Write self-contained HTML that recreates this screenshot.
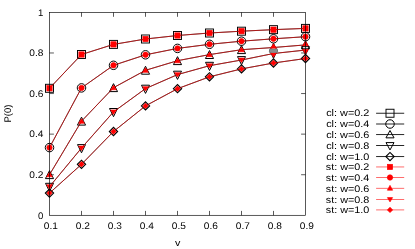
<!DOCTYPE html>
<html><head><meta charset="utf-8"><title>P(0) vs v</title>
<style>html,body{margin:0;padding:0;background:#fff;}svg{display:block;will-change:transform;}text{opacity:0.999;text-rendering:geometricPrecision;}</style>
</head><body>
<svg width="415" height="249" viewBox="0 0 415 249">
<rect width="415" height="249" fill="#fff"/>
<g stroke-width="0.65" stroke-linejoin="miter" stroke-linecap="butt" font-family="'Liberation Sans', sans-serif" font-size="9.6px" fill="#000">
<g stroke="#000" fill="none">
<path d="M49.5 174.72h4.4"/>
<path d="M305.5 174.72h-4.4"/>
<path d="M49.5 134.14h4.4"/>
<path d="M305.5 134.14h-4.4"/>
<path d="M49.5 93.56h4.4"/>
<path d="M305.5 93.56h-4.4"/>
<path d="M49.5 52.98h4.4"/>
<path d="M305.5 52.98h-4.4"/>
<path d="M81.5 215.3v-4.4"/>
<path d="M81.5 12.4v4.4"/>
<path d="M113.5 215.3v-4.4"/>
<path d="M113.5 12.4v4.4"/>
<path d="M145.5 215.3v-4.4"/>
<path d="M145.5 12.4v4.4"/>
<path d="M177.5 215.3v-4.4"/>
<path d="M177.5 12.4v4.4"/>
<path d="M209.5 215.3v-4.4"/>
<path d="M209.5 12.4v4.4"/>
<path d="M241.5 215.3v-4.4"/>
<path d="M241.5 12.4v4.4"/>
<path d="M273.5 215.3v-4.4"/>
<path d="M273.5 12.4v4.4"/>
</g>
<text x="43.4" y="218.6" text-anchor="end">0</text>
<text x="43.4" y="178.02" text-anchor="end" textLength="14.1" lengthAdjust="spacingAndGlyphs">0.2</text>
<text x="43.4" y="137.44" text-anchor="end" textLength="14.1" lengthAdjust="spacingAndGlyphs">0.4</text>
<text x="43.4" y="96.86" text-anchor="end" textLength="14.1" lengthAdjust="spacingAndGlyphs">0.6</text>
<text x="43.4" y="56.28" text-anchor="end" textLength="14.1" lengthAdjust="spacingAndGlyphs">0.8</text>
<text x="43.4" y="15.7" text-anchor="end">1</text>
<text x="50.8" y="229.3" text-anchor="middle" textLength="14.1" lengthAdjust="spacingAndGlyphs">0.1</text>
<text x="82.8" y="229.3" text-anchor="middle" textLength="14.1" lengthAdjust="spacingAndGlyphs">0.2</text>
<text x="114.8" y="229.3" text-anchor="middle" textLength="14.1" lengthAdjust="spacingAndGlyphs">0.3</text>
<text x="146.8" y="229.3" text-anchor="middle" textLength="14.1" lengthAdjust="spacingAndGlyphs">0.4</text>
<text x="178.8" y="229.3" text-anchor="middle" textLength="14.1" lengthAdjust="spacingAndGlyphs">0.5</text>
<text x="210.8" y="229.3" text-anchor="middle" textLength="14.1" lengthAdjust="spacingAndGlyphs">0.6</text>
<text x="242.8" y="229.3" text-anchor="middle" textLength="14.1" lengthAdjust="spacingAndGlyphs">0.7</text>
<text x="274.8" y="229.3" text-anchor="middle" textLength="14.1" lengthAdjust="spacingAndGlyphs">0.8</text>
<text x="306.8" y="229.3" text-anchor="middle" textLength="14.1" lengthAdjust="spacingAndGlyphs">0.9</text>
<text x="177.8" y="246" text-anchor="middle" textLength="5.4" lengthAdjust="spacingAndGlyphs">v</text>
<text transform="translate(11.2 113.6) rotate(-90)" text-anchor="middle" textLength="18" lengthAdjust="spacingAndGlyphs">P(0)</text>
<text x="369.4" y="116.4" text-anchor="end" textLength="43.2" lengthAdjust="spacingAndGlyphs">cl: w=0.2</text>
<path d="M376.1 113.25H404.2" stroke="#000" stroke-width="0.85"/>
<polyline points="49.5,88.3 81.5,54.5 113.5,44.4 145.5,39 177.5,35.5 209.5,33 241.5,31.2 273.5,29.65 305.5,28.4" stroke="#000" stroke-width="0.78" fill="none"/>
<rect x="45.5" y="84.3" width="8" height="8" stroke="#000" fill="none" stroke-width="0.95"/>
<rect x="77.5" y="50.5" width="8" height="8" stroke="#000" fill="none" stroke-width="0.95"/>
<rect x="109.5" y="40.4" width="8" height="8" stroke="#000" fill="none" stroke-width="0.95"/>
<rect x="141.5" y="35" width="8" height="8" stroke="#000" fill="none" stroke-width="0.95"/>
<rect x="173.5" y="31.5" width="8" height="8" stroke="#000" fill="none" stroke-width="0.95"/>
<rect x="205.5" y="29" width="8" height="8" stroke="#000" fill="none" stroke-width="0.95"/>
<rect x="237.5" y="27.2" width="8" height="8" stroke="#000" fill="none" stroke-width="0.95"/>
<rect x="269.5" y="25.65" width="8" height="8" stroke="#000" fill="none" stroke-width="0.95"/>
<rect x="301.5" y="24.4" width="8" height="8" stroke="#000" fill="none" stroke-width="0.95"/>
<rect x="386" y="109.25" width="8" height="8" stroke="#000" fill="none" stroke-width="0.95"/>
<text x="369.4" y="127.15" text-anchor="end" textLength="43.2" lengthAdjust="spacingAndGlyphs">cl: w=0.4</text>
<path d="M376.1 124H404.2" stroke="#000" stroke-width="0.85"/>
<polyline points="49.5,147.6 81.5,87.9 113.5,65.3 145.5,54.8 177.5,48.4 209.5,44.3 241.5,41.2 273.5,38.8 305.5,36.7" stroke="#000" stroke-width="0.78" fill="none"/>
<circle cx="49.5" cy="147.6" r="4.25" stroke="#000" fill="none" stroke-width="1.0"/>
<circle cx="81.5" cy="87.9" r="4.25" stroke="#000" fill="none" stroke-width="1.0"/>
<circle cx="113.5" cy="65.3" r="4.25" stroke="#000" fill="none" stroke-width="1.0"/>
<circle cx="145.5" cy="54.8" r="4.25" stroke="#000" fill="none" stroke-width="1.0"/>
<circle cx="177.5" cy="48.4" r="4.25" stroke="#000" fill="none" stroke-width="1.0"/>
<circle cx="209.5" cy="44.3" r="4.25" stroke="#000" fill="none" stroke-width="1.0"/>
<circle cx="241.5" cy="41.2" r="4.25" stroke="#000" fill="none" stroke-width="1.0"/>
<circle cx="273.5" cy="38.8" r="4.25" stroke="#000" fill="none" stroke-width="1.0"/>
<circle cx="305.5" cy="36.7" r="4.25" stroke="#000" fill="none" stroke-width="1.0"/>
<circle cx="390" cy="124" r="4.25" stroke="#000" fill="none" stroke-width="1.0"/>
<text x="369.4" y="137.7" text-anchor="end" textLength="43.2" lengthAdjust="spacingAndGlyphs">cl: w=0.6</text>
<path d="M376.1 134.55H404.2" stroke="#000" stroke-width="0.85"/>
<polyline points="49.5,174.7 81.5,121.2 113.5,87.7 145.5,70.3 177.5,60.7 209.5,54.6 241.5,49.7 273.5,47.5 305.5,44.9" stroke="#000" stroke-width="0.78" fill="none"/>
<polygon points="45.45,178.6 49.5,170.65 53.55,178.6" stroke="#000" fill="none" stroke-width="1.0"/>
<polygon points="77.45,125.1 81.5,117.15 85.55,125.1" stroke="#000" fill="none" stroke-width="1.0"/>
<polygon points="109.45,91.6 113.5,83.65 117.55,91.6" stroke="#000" fill="none" stroke-width="1.0"/>
<polygon points="141.45,74.2 145.5,66.25 149.55,74.2" stroke="#000" fill="none" stroke-width="1.0"/>
<polygon points="173.45,64.6 177.5,56.65 181.55,64.6" stroke="#000" fill="none" stroke-width="1.0"/>
<polygon points="205.45,58.5 209.5,50.55 213.55,58.5" stroke="#000" fill="none" stroke-width="1.0"/>
<polygon points="237.45,53.6 241.5,45.65 245.55,53.6" stroke="#000" fill="none" stroke-width="1.0"/>
<polygon points="269.45,51.4 273.5,43.45 277.55,51.4" stroke="#000" fill="none" stroke-width="1.0"/>
<polygon points="301.45,48.8 305.5,40.85 309.55,48.8" stroke="#000" fill="none" stroke-width="1.0"/>
<polygon points="385.95,137.85 390,130.5 394.05,137.85" stroke="#000" fill="none" stroke-width="1.0"/>
<text x="369.4" y="148.65" text-anchor="end" textLength="43.2" lengthAdjust="spacingAndGlyphs">cl: w=0.8</text>
<path d="M376.1 145.5H404.2" stroke="#000" stroke-width="0.85"/>
<polyline points="49.5,186.7 81.5,148 113.5,111.9 145.5,88.6 177.5,74.6 209.5,65.7 241.5,60 273.5,53.5 305.5,50.05" stroke="#000" stroke-width="0.78" fill="none"/>
<polygon points="45.5,183.3 49.5,191.5 53.5,183.3" stroke="#000" fill="none" stroke-width="1.0"/>
<polygon points="77.5,144.6 81.5,152.8 85.5,144.6" stroke="#000" fill="none" stroke-width="1.0"/>
<polygon points="109.5,108.5 113.5,116.7 117.5,108.5" stroke="#000" fill="none" stroke-width="1.0"/>
<polygon points="141.5,85.2 145.5,93.4 149.5,85.2" stroke="#000" fill="none" stroke-width="1.0"/>
<polygon points="173.5,71.2 177.5,79.4 181.5,71.2" stroke="#000" fill="none" stroke-width="1.0"/>
<polygon points="205.5,62.3 209.5,70.5 213.5,62.3" stroke="#000" fill="none" stroke-width="1.0"/>
<polygon points="237.5,56.6 241.5,64.8 245.5,56.6" stroke="#000" fill="none" stroke-width="1.0"/>
<polygon points="269.5,50.1 273.5,58.3 277.5,50.1" stroke="#000" fill="none" stroke-width="1.0"/>
<polygon points="301.5,46.65 305.5,54.85 309.5,46.65" stroke="#000" fill="none" stroke-width="1.0"/>
<polygon points="386,142.6 390,149.95 394,142.6" stroke="#000" fill="none" stroke-width="1.0"/>
<text x="369.4" y="159.7" text-anchor="end" textLength="43.2" lengthAdjust="spacingAndGlyphs">cl: w=1.0</text>
<path d="M376.1 156.55H404.2" stroke="#000" stroke-width="0.85"/>
<polyline points="49.5,193.1 81.5,164.3 113.5,131.5 145.5,105.9 177.5,88.7 209.5,76.8 241.5,68.9 273.5,63 305.5,58.5" stroke="#000" stroke-width="0.78" fill="none"/>
<polygon points="45.4,193.1 49.5,197.2 53.6,193.1 49.5,189" stroke="#000" fill="none" stroke-width="1.15"/>
<polygon points="77.4,164.3 81.5,168.4 85.6,164.3 81.5,160.2" stroke="#000" fill="none" stroke-width="1.15"/>
<polygon points="109.4,131.5 113.5,135.6 117.6,131.5 113.5,127.4" stroke="#000" fill="none" stroke-width="1.15"/>
<polygon points="141.4,105.9 145.5,110 149.6,105.9 145.5,101.8" stroke="#000" fill="none" stroke-width="1.15"/>
<polygon points="173.4,88.7 177.5,92.8 181.6,88.7 177.5,84.6" stroke="#000" fill="none" stroke-width="1.15"/>
<polygon points="205.4,76.8 209.5,80.9 213.6,76.8 209.5,72.7" stroke="#000" fill="none" stroke-width="1.15"/>
<polygon points="237.4,68.9 241.5,73 245.6,68.9 241.5,64.8" stroke="#000" fill="none" stroke-width="1.15"/>
<polygon points="269.4,63 273.5,67.1 277.6,63 273.5,58.9" stroke="#000" fill="none" stroke-width="1.15"/>
<polygon points="301.4,58.5 305.5,62.6 309.6,58.5 305.5,54.4" stroke="#000" fill="none" stroke-width="1.15"/>
<polygon points="385.9,156.55 390,160.65 394.1,156.55 390,152.45" stroke="#000" fill="none" stroke-width="1.15"/>
<text x="369.4" y="170.1" text-anchor="end" textLength="43.6" lengthAdjust="spacingAndGlyphs">st: w=0.2</text>
<path d="M376.1 166.95H404.2" stroke="#f00" stroke-width="0.58"/>
<polyline points="49.5,88.3 81.5,54.5 113.5,44.4 145.5,39 177.5,35.5 209.5,33 241.5,31.2 273.5,29.65 305.5,28.4" stroke="#f00" stroke-width="0.58" fill="none"/>
<rect x="46.85" y="85.65" width="5.3" height="5.3" stroke="#f00" fill="#f00" stroke-width="0.65"/>
<rect x="78.85" y="51.85" width="5.3" height="5.3" stroke="#f00" fill="#f00" stroke-width="0.65"/>
<rect x="110.85" y="41.75" width="5.3" height="5.3" stroke="#f00" fill="#f00" stroke-width="0.65"/>
<rect x="142.85" y="36.35" width="5.3" height="5.3" stroke="#f00" fill="#f00" stroke-width="0.65"/>
<rect x="174.85" y="32.85" width="5.3" height="5.3" stroke="#f00" fill="#f00" stroke-width="0.65"/>
<rect x="206.85" y="30.35" width="5.3" height="5.3" stroke="#f00" fill="#f00" stroke-width="0.65"/>
<rect x="238.85" y="28.55" width="5.3" height="5.3" stroke="#f00" fill="#f00" stroke-width="0.65"/>
<rect x="270.85" y="27" width="5.3" height="5.3" stroke="#f00" fill="#f00" stroke-width="0.65"/>
<rect x="302.85" y="25.75" width="5.3" height="5.3" stroke="#f00" fill="#f00" stroke-width="0.65"/>
<rect x="387.35" y="164.3" width="5.3" height="5.3" stroke="#f00" fill="#f00" stroke-width="0.65"/>
<text x="369.4" y="180.65" text-anchor="end" textLength="43.6" lengthAdjust="spacingAndGlyphs">st: w=0.4</text>
<path d="M376.1 177.5H404.2" stroke="#f00" stroke-width="0.58"/>
<polyline points="49.5,147.6 81.5,87.9 113.5,65.3 145.5,54.8 177.5,48.4 209.5,44.3 241.5,41.2 273.5,38.8 305.5,36.7" stroke="#f00" stroke-width="0.58" fill="none"/>
<circle cx="49.5" cy="147.6" r="2.7" stroke="#f00" fill="#f00" stroke-width="0.65"/>
<circle cx="81.5" cy="87.9" r="2.7" stroke="#f00" fill="#f00" stroke-width="0.65"/>
<circle cx="113.5" cy="65.3" r="2.7" stroke="#f00" fill="#f00" stroke-width="0.65"/>
<circle cx="145.5" cy="54.8" r="2.7" stroke="#f00" fill="#f00" stroke-width="0.65"/>
<circle cx="177.5" cy="48.4" r="2.7" stroke="#f00" fill="#f00" stroke-width="0.65"/>
<circle cx="209.5" cy="44.3" r="2.7" stroke="#f00" fill="#f00" stroke-width="0.65"/>
<circle cx="241.5" cy="41.2" r="2.7" stroke="#f00" fill="#f00" stroke-width="0.65"/>
<circle cx="273.5" cy="38.8" r="2.7" stroke="#f00" fill="#f00" stroke-width="0.65"/>
<circle cx="305.5" cy="36.7" r="2.7" stroke="#f00" fill="#f00" stroke-width="0.65"/>
<circle cx="390" cy="177.5" r="2.7" stroke="#f00" fill="#f00" stroke-width="0.65"/>
<text x="369.4" y="191.5" text-anchor="end" textLength="43.6" lengthAdjust="spacingAndGlyphs">st: w=0.6</text>
<path d="M376.1 188.35H404.2" stroke="#f00" stroke-width="0.58"/>
<polyline points="49.5,174.7 81.5,121.2 113.5,87.7 145.5,70.3 177.5,60.7 209.5,54.6 241.5,49.7 273.5,47.5 305.5,44.9" stroke="#f00" stroke-width="0.58" fill="none"/>
<polygon points="46.65,176.75 49.5,172.2 52.35,176.75" stroke="#f00" fill="#f00" stroke-width="0.65"/>
<polygon points="78.65,123.25 81.5,118.7 84.35,123.25" stroke="#f00" fill="#f00" stroke-width="0.65"/>
<polygon points="110.65,89.75 113.5,85.2 116.35,89.75" stroke="#f00" fill="#f00" stroke-width="0.65"/>
<polygon points="142.65,72.35 145.5,67.8 148.35,72.35" stroke="#f00" fill="#f00" stroke-width="0.65"/>
<polygon points="174.65,62.75 177.5,58.2 180.35,62.75" stroke="#f00" fill="#f00" stroke-width="0.65"/>
<polygon points="206.65,56.65 209.5,52.1 212.35,56.65" stroke="#f00" fill="#f00" stroke-width="0.65"/>
<polygon points="238.65,51.75 241.5,47.2 244.35,51.75" stroke="#f00" fill="#f00" stroke-width="0.65"/>
<polygon points="270.65,48.3 273.5,43.75 276.35,48.3" stroke="#f00" fill="#f00" stroke-width="0.65"/>
<polygon points="302.65,45.7 305.5,41.15 308.35,45.7" stroke="#f00" fill="#f00" stroke-width="0.65"/>
<polygon points="387.35,190.2 390,185.35 392.65,190.2" stroke="#f00" fill="#f00" stroke-width="0.65"/>
<text x="369.4" y="202.65" text-anchor="end" textLength="43.6" lengthAdjust="spacingAndGlyphs">st: w=0.8</text>
<path d="M376.1 199.5H404.2" stroke="#f00" stroke-width="0.58"/>
<polyline points="49.5,186.7 81.5,148 113.5,111.9 145.5,88.6 177.5,74.6 209.5,65.7 241.5,60 273.5,53.5 305.5,50.05" stroke="#f00" stroke-width="0.58" fill="none"/>
<polygon points="46.65,184.8 49.5,189.2 52.35,184.8" stroke="#f00" fill="#f00" stroke-width="0.65"/>
<polygon points="78.65,146.1 81.5,150.5 84.35,146.1" stroke="#f00" fill="#f00" stroke-width="0.65"/>
<polygon points="110.65,110 113.5,114.4 116.35,110" stroke="#f00" fill="#f00" stroke-width="0.65"/>
<polygon points="142.65,86.7 145.5,91.1 148.35,86.7" stroke="#f00" fill="#f00" stroke-width="0.65"/>
<polygon points="174.65,72.7 177.5,77.1 180.35,72.7" stroke="#f00" fill="#f00" stroke-width="0.65"/>
<polygon points="206.65,63.8 209.5,68.2 212.35,63.8" stroke="#f00" fill="#f00" stroke-width="0.65"/>
<polygon points="238.65,58.1 241.5,62.5 244.35,58.1" stroke="#f00" fill="#f00" stroke-width="0.65"/>
<polygon points="270.65,52.8 273.5,57.2 276.35,52.8" stroke="#f00" fill="#f00" stroke-width="0.65"/>
<polygon points="302.65,49.5 305.5,53.9 308.35,49.5" stroke="#f00" fill="#f00" stroke-width="0.65"/>
<polygon points="387.4,197.6 390,201.9 392.6,197.6" stroke="#f00" fill="#f00" stroke-width="0.65"/>
<text x="369.4" y="213.05" text-anchor="end" textLength="43.6" lengthAdjust="spacingAndGlyphs">st: w=1.0</text>
<path d="M376.1 209.9H404.2" stroke="#f00" stroke-width="0.58"/>
<polyline points="49.5,193.1 81.5,164.3 113.5,131.5 145.5,105.9 177.5,88.7 209.5,76.8 241.5,68.9 273.5,63 305.5,58.5" stroke="#f00" stroke-width="0.58" fill="none"/>
<polygon points="46.8,193.1 49.5,195.8 52.2,193.1 49.5,190.4" stroke="#f00" fill="#f00" stroke-width="0.65"/>
<polygon points="78.8,164.3 81.5,167 84.2,164.3 81.5,161.6" stroke="#f00" fill="#f00" stroke-width="0.65"/>
<polygon points="110.8,131.5 113.5,134.2 116.2,131.5 113.5,128.8" stroke="#f00" fill="#f00" stroke-width="0.65"/>
<polygon points="142.8,105.9 145.5,108.6 148.2,105.9 145.5,103.2" stroke="#f00" fill="#f00" stroke-width="0.65"/>
<polygon points="174.8,88.7 177.5,91.4 180.2,88.7 177.5,86" stroke="#f00" fill="#f00" stroke-width="0.65"/>
<polygon points="206.8,76.8 209.5,79.5 212.2,76.8 209.5,74.1" stroke="#f00" fill="#f00" stroke-width="0.65"/>
<polygon points="238.8,68.9 241.5,71.6 244.2,68.9 241.5,66.2" stroke="#f00" fill="#f00" stroke-width="0.65"/>
<polygon points="270.8,63 273.5,65.7 276.2,63 273.5,60.3" stroke="#f00" fill="#f00" stroke-width="0.65"/>
<polygon points="302.8,58.5 305.5,61.2 308.2,58.5 305.5,55.8" stroke="#f00" fill="#f00" stroke-width="0.65"/>
<polygon points="387.3,209.9 390,212.6 392.7,209.9 390,207.2" stroke="#f00" fill="#f00" stroke-width="0.65"/>
<rect x="269.2" y="49" width="8.6" height="3.6" fill="#8c8c8c" stroke="none"/>
<path d="M269 49.2H278M269 52.4H278" stroke="#6f7c7c" stroke-width="0.6"/>
<rect x="49.5" y="12.4" width="256" height="202.9" stroke="#000" fill="none"/>
</g></svg>
</body></html>
